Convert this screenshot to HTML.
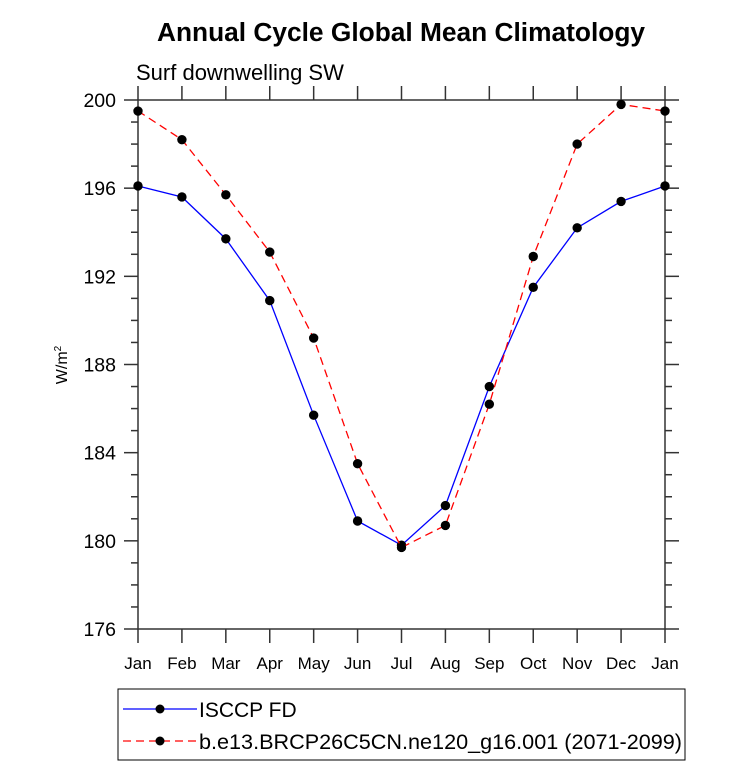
<!DOCTYPE html>
<html><head><meta charset="utf-8"><style>
body{margin:0;background:#fff;}
svg text{font-family:"Liberation Sans",Helvetica,sans-serif;}
</style></head><body>
<svg id="chart" width="733" height="766" viewBox="0 0 733 766" xmlns="http://www.w3.org/2000/svg">
<text x="401" y="41" text-anchor="middle" font-size="26.3" font-weight="bold">Annual Cycle Global Mean Climatology</text>
<text x="136" y="80" font-size="22">Surf downwelling SW</text>
<text transform="translate(67,365) rotate(-90)" text-anchor="middle" font-size="16">W/m<tspan dy="-6" font-size="10">2</tspan></text>
<g id="axes"></g>
<g id="series"></g>
<g>
<rect x="118" y="689" width="567" height="71" fill="none" stroke="#000" stroke-width="1"/>
<g>
<line x1="123" y1="709" x2="197" y2="709" stroke="#0000ff" stroke-width="1.2"/>
<circle cx="160" cy="709" r="4.5" fill="#000"/>
<text x="199" y="717" font-size="21">ISCCP FD</text></g>
<g>
<line x1="123" y1="741" x2="197" y2="741" stroke="#ff0000" stroke-width="1.2" stroke-dasharray="8,5"/>
<circle cx="160" cy="741" r="4.5" fill="#000"/>
<text x="199" y="749" font-size="21" textLength="483" lengthAdjust="spacingAndGlyphs">b.e13.BRCP26C5CN.ne120_g16.001 (2071-2099)</text></g>
</g>
</svg>
<script>
const months=["Jan","Feb","Mar","Apr","May","Jun","Jul","Aug","Sep","Oct","Nov","Dec","Jan"];
const isccp=[196.1,195.6,193.7,190.9,185.7,180.9,179.8,181.6,187.0,191.5,194.2,195.4,196.1];
const model=[199.5,198.2,195.7,193.1,189.2,183.5,179.7,180.7,186.2,192.9,198.0,199.8,199.5];
const yTicks=[176,180,184,188,192,196,200];
const NS="http://www.w3.org/2000/svg";
const L=138,R=665,T=100,B=629,YMIN=176,YMAX=200;
const xs=i=>L+i*(R-L)/12;
const ys=v=>B-(v-YMIN)*(B-T)/(YMAX-YMIN);
function mk(tag,attrs,parent){const e=document.createElementNS(NS,tag);for(const k in attrs)e.setAttribute(k,attrs[k]);parent.appendChild(e);return e;}
const ax=document.getElementById('axes');
const S='#333',W=1.5;
const frame=mk('rect',{x:L,y:T,width:R-L,height:B-T,fill:'none',stroke:S,'stroke-width':W},ax);


for(let v=YMIN;v<=YMAX;v++){
  const major=(v%4===0);const len=major?14:7;const y=ys(v);
  mk('line',{x1:L,y1:y,x2:L-len,y2:y,stroke:S,'stroke-width':W},ax);
  mk('line',{x1:R,y1:y,x2:R+len,y2:y,stroke:S,'stroke-width':W},ax);
}
yTicks.forEach(v=>{
  const t=mk('text',{x:116,y:ys(v)+7,'text-anchor':'end','font-size':19.5},ax);
  t.textContent=v;
  
  
});
months.forEach((m,i)=>{
  const x=xs(i);
  mk('line',{x1:x,y1:B,x2:x,y2:B+14,stroke:S,'stroke-width':W},ax);
  mk('line',{x1:x,y1:T,x2:x,y2:T-14,stroke:S,'stroke-width':W},ax);
  const t=mk('text',{x:x,y:B+40,'text-anchor':'middle','font-size':17},ax);
  t.textContent=m;
  
  
});
const sg=document.getElementById('series');
function draw(vals,color,dash,name){
  const g=mk('g',{},sg);
  
  
  const pts=vals.map((v,i)=>xs(i)+','+ys(v)).join(' ');
  const pl=mk('polyline',{points:pts,fill:'none',stroke:color,'stroke-width':1.3},g);
  if(dash)pl.setAttribute('stroke-dasharray',dash);
  vals.forEach((v,i)=>{
    const c=mk('circle',{cx:xs(i),cy:ys(v),r:4.7,fill:'#000'},g);
    
    
  });
}
draw(isccp,'#0000ff',null,'series-isccp');
draw(model,'#ff0000','8,5','series-model');
</script>
</body></html>
